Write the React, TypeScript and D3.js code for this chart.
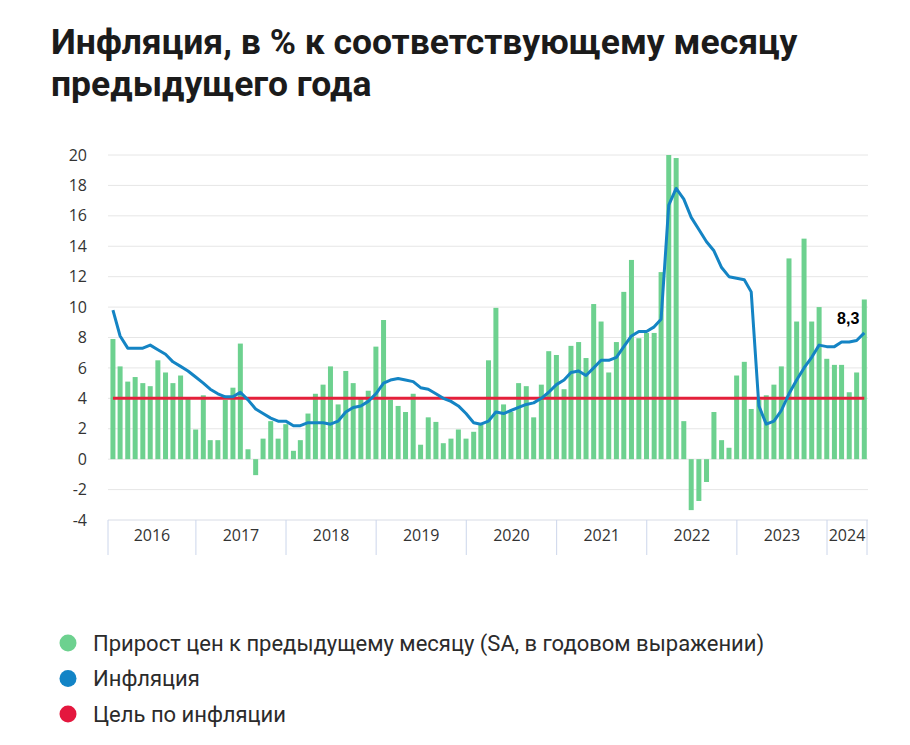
import React from 'react';
import * as d3 from 'd3';

// Monthly data, Jan 2016 – May 2024
const startYear = 2016;
const yearLabels = ['2016', '2017', '2018', '2019', '2020', '2021', '2022', '2023', '2024'];
const yTicks = [-4, -2, 0, 2, 4, 6, 8, 10, 12, 14, 16, 18, 20];

// Прирост цен к предыдущему месяцу (SA, в годовом выражении)
const momSaar = [
  7.9, 6.1, 5.1, 5.4, 5.0, 4.8, 6.5, 5.7, 5.0, 5.5, 4.0, 1.95,
  4.2, 1.25, 1.25, 3.9, 4.7, 7.6, 0.65, -1.05, 1.35, 2.5, 1.35, 2.3,
  0.55, 1.25, 3.0, 4.3, 4.9, 6.1, 3.6, 5.8, 5.0, 4.0, 4.5, 7.4,
  9.15, 3.9, 3.5, 3.1, 4.3, 0.95, 2.75, 2.45, 1.05, 1.35, 1.95, 1.35,
  1.8, 2.3, 6.5, 9.95, 3.6, 3.1, 5.0, 4.8, 2.75, 4.9, 7.1, 6.85,
  4.6, 7.45, 7.7, 6.65, 10.2, 9.05, 5.7, 7.7, 11.0, 13.1, 7.95, 8.3,
  8.3, 12.3, 20.0, 19.8, 2.5, -3.35, -2.75, -1.5, 3.1, 1.25, 0.75, 5.5,
  6.4, 3.3, 3.9, 4.2, 4.9, 6.1, 13.2, 9.05, 14.5, 9.05, 10.0, 6.6,
  6.2, 6.2, 4.4, 5.7, 10.5,
];

// Инфляция (г/г)
const inflation = [
  9.8, 8.1, 7.3, 7.3, 7.3, 7.5, 7.2, 6.9, 6.4, 6.1, 5.8, 5.4,
  5.0, 4.6, 4.3, 4.1, 4.1, 4.4, 3.9, 3.3, 3.0, 2.7, 2.5, 2.5,
  2.2, 2.2, 2.4, 2.4, 2.4, 2.3, 2.5, 3.1, 3.4, 3.5, 3.8, 4.3,
  5.0, 5.2, 5.3, 5.2, 5.1, 4.7, 4.6, 4.3, 4.0, 3.8, 3.5, 3.0,
  2.4, 2.3, 2.5, 3.1, 3.0, 3.2, 3.4, 3.6, 3.7, 4.0, 4.4, 4.9,
  5.2, 5.7, 5.8, 5.5, 6.0, 6.5, 6.5, 6.7, 7.4, 8.1, 8.4, 8.4,
  8.7, 9.2, 16.7, 17.8, 17.1, 15.9, 15.1, 14.3, 13.7, 12.6, 12.0, 11.9,
  11.8, 11.0, 3.5, 2.3, 2.5, 3.2, 4.3, 5.2, 6.0, 6.7, 7.5, 7.4,
  7.4, 7.7, 7.7, 7.8, 8.3,
];

const target = 4;
const lastLabel = '8,3';

const legendItems = [
  { label: 'Прирост цен к предыдущему месяцу (SA, в годовом выражении)', color: '#6dd18f' },
  { label: 'Инфляция', color: '#1284c6' },
  { label: 'Цель по инфляции', color: '#e4173e' },
];

const GREEN = '#6dd18f';
const BLUE = '#1484c4';
const RED = '#e4203b';

export default function App() {
  const left = 108;
  const right = 868;
  const x = d3
    .scaleTime()
    .domain([new Date(2016, 0, 11), new Date(2024, 5, 15)])
    .range([left, right]);
  const y = d3.scaleLinear().domain([-4, 20]).range([520, 155]);

  const monthDate = (i: number) => new Date(startYear, i + 1, 0);
  const bw = 5;

  const line = d3
    .line<number>()
    .x((_, i) => x(monthDate(i)))
    .y((d) => y(d))
    .curve(d3.curveLinear);

  const boundaries = [left];
  for (let yr = startYear + 1; yr <= 2024; yr++) boundaries.push(x(new Date(yr, 0, 1)));
  boundaries.push(867);

  const lastIdx = inflation.length - 1;
  const font = "'Open Sans', 'Liberation Sans', sans-serif";
  const titleFont = "Roboto, 'Liberation Sans', sans-serif";

  return (
    <svg
      width={910}
      height={745}
      style={{ position: 'absolute', left: 0, top: 0, background: '#fff' }}
    >
      <rect x={0} y={0} width={910} height={745} fill="#fff" />
      <text x={51} y={54} fontFamily={titleFont} fontWeight={700} fontSize={35.5} fill="#1b1b1b">
        Инфляция, в % к соответствующему месяцу
      </text>
      <text x={51} y={96} fontFamily={titleFont} fontWeight={700} fontSize={35.5} fill="#1b1b1b">
        предыдущего года
      </text>

      {/* grid */}
      {yTicks.map((t) => (
        <g key={t}>
          <line x1={left} x2={right} y1={y(t)} y2={y(t)} stroke={t === -4 ? '#d8dce6' : '#e6e6e6'} strokeWidth={1} />
          <text x={87} y={y(t)} dy="0.35em" textAnchor="end" fontFamily={font} fontSize={16} fill="#333">
            {t}
          </text>
        </g>
      ))}

      {/* x axis bands */}
      {boundaries.map((b, i) => (
        <line key={i} x1={b} x2={b} y1={520} y2={555} stroke="#ccd6eb" strokeWidth={1} />
      ))}
      {yearLabels.map((lab, i) => (
        <text
          key={lab}
          x={(boundaries[i] + boundaries[i + 1]) / 2}
          y={541}
          textAnchor="middle"
          fontFamily={font}
          fontSize={16}
          fill="#333"
        >
          {lab}
        </text>
      ))}

      {/* bars */}
      {momSaar.map((v, i) => (
        <rect
          key={i}
          x={x(monthDate(i)) - bw / 2}
          y={y(Math.max(0, v))}
          width={bw}
          height={Math.abs(y(v) - y(0))}
          fill={GREEN}
        />
      ))}

      {/* target line */}
      <line
        x1={x(monthDate(0))}
        x2={x(monthDate(lastIdx))}
        y1={y(target)}
        y2={y(target)}
        stroke={RED}
        strokeWidth={3}
      />

      {/* inflation line */}
      <path d={line(inflation) || ''} fill="none" stroke={BLUE} strokeWidth={3} strokeLinejoin="round" />

      <text
        x={x(monthDate(lastIdx)) - 5}
        y={y(inflation[lastIdx]) - 9}
        textAnchor="end"
        fontFamily="'Liberation Sans', Arial, sans-serif"
        fontWeight={700}
        fontSize={16}
        fill="#000"
      >
        {lastLabel}
      </text>

      {/* legend */}
      {legendItems.map((it, i) => (
        <g key={it.label}>
          <circle cx={68} cy={643 + i * 35.5} r={8.5} fill={it.color} />
          <text
            x={93}
            y={643 + i * 35.5}
            dy="0.35em"
            fontFamily="Roboto, sans-serif"
            fontSize={22}
            fill="#2b2b2b"
          >
            {it.label}
          </text>
        </g>
      ))}
    </svg>
  );
}
